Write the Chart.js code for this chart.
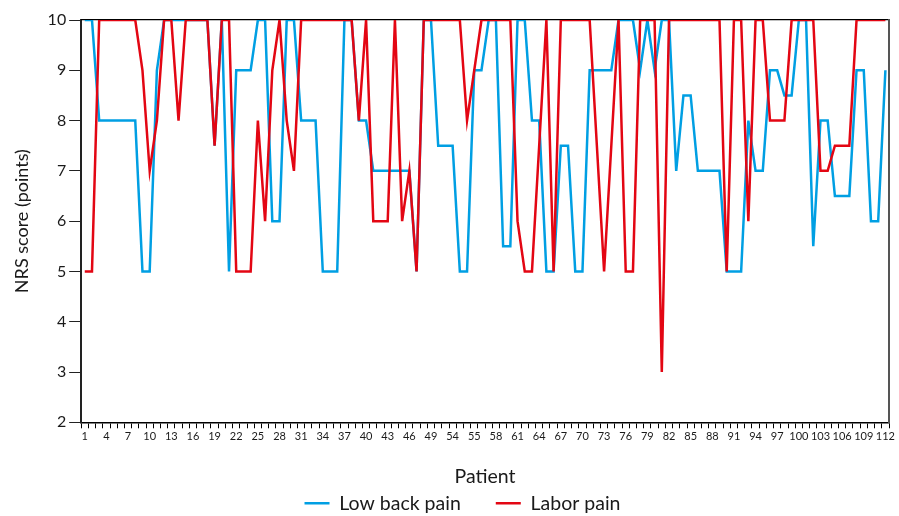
<!DOCTYPE html>
<html>
<head>
<meta charset="utf-8">
<script src="https://cdn.jsdelivr.net/npm/chart.js@4.4.1/dist/chart.umd.min.js"></script>
<style>
  html, body { margin: 0; padding: 0; background: #fff; }
  #wrap { width: 899px; height: 516px; }
</style>
</head>
<body>
<div id="wrap"><canvas id="nrsChart"></canvas></div>
<script>
// patients 1..112
const patients = [
  1, 2, 3, 4, 5, 6, 7, 8, 9, 10, 11, 12, 13, 14, 15, 16, 17, 18, 19, 20,
  21, 22, 23, 24, 25, 26, 27, 28, 29, 30, 31, 32, 33, 34, 35, 36, 37, 38, 39, 40,
  41, 42, 43, 44, 45, 46, 47, 48, 49, 50, 51, 52, 53, 54, 55, 56, 57, 58, 59, 60,
  61, 62, 63, 64, 65, 66, 67, 68, 69, 70, 71, 72, 73, 74, 75, 76, 77, 78, 79, 80,
  81, 82, 83, 84, 85, 86, 87, 88, 89, 90, 91, 92, 93, 94, 95, 96, 97, 98, 99, 100,
  101, 102, 103, 104, 105, 106, 107, 108, 109, 110, 111, 112
];

// every third patient is labelled (the source prints "54" where 52 would be)
const tickLabels = [
  '1', '4', '7', '10', '13', '16', '19', '22', '25', '28', '31', '34', '37',
  '40', '43', '46', '49', '54', '55', '58', '61', '64', '67', '70', '73', '76',
  '79', '82', '85', '88', '91', '94', '97', '100', '103', '106', '109', '112'
];

const lowBackPain = [
  10, 10, 8, 8, 8, 8, 8, 8, 5, 5,
  9, 10, 10, 10, 10, 10, 10, 10, 7.5, 10,
  5, 9, 9, 9, 10, 10, 6, 6, 10, 10,
  8, 8, 8, 5, 5, 5, 10, 10, 8, 8,
  7, 7, 7, 7, 7, 7, 5, 10, 10, 7.5,
  7.5, 7.5, 5, 5, 9, 9, 10, 10, 5.5, 5.5,
  10, 10, 8, 8, 5, 5, 7.5, 7.5, 5, 5,
  9, 9, 9, 9, 10, 10, 10, 9, 10, 9,
  10, 10, 7, 8.5, 8.5, 7, 7, 7, 7, 5,
  5, 5, 8, 7, 7, 9, 9, 8.5, 8.5, 10,
  10, 5.5, 8, 8, 6.5, 6.5, 6.5, 9, 9, 6,
  6, 9
];

const laborPain = [
  5, 5, 10, 10, 10, 10, 10, 10, 9, 7,
  8, 10, 10, 8, 10, 10, 10, 10, 7.5, 10,
  10, 5, 5, 5, 8, 6, 9, 10, 8, 7,
  10, 10, 10, 10, 10, 10, 10, 10, 8, 10,
  6, 6, 6, 10, 6, 7, 5, 10, 10, 10,
  10, 10, 10, 8, 9, 10, 10, 10, 10, 10,
  6, 5, 5, 7.5, 10, 5, 10, 10, 10, 10,
  10, 7.5, 5, 7.5, 10, 5, 5, 10, 10, 10,
  3, 10, 10, 10, 10, 10, 10, 10, 10, 5,
  10, 10, 6, 10, 10, 8, 8, 8, 10, 10,
  10, 10, 7, 7, 7.5, 7.5, 7.5, 10, 10, 10,
  10, 10
];

const COLORS = {
  lowBack: '#009fe3',
  labor:   '#e30613',
  ink:     '#1a1a1a',
  axis:    '#222222',
};

Chart.defaults.font.family = "Lato, 'Noto Sans', sans-serif";
Chart.defaults.color = COLORS.ink;

// plain frame line only, no ticks or labels
const frameAxis = (position, color, width) => ({
  type: 'linear',
  position,
  min: 0,
  max: 1,
  ticks: { display: false },
  grid: { display: false, drawTicks: false },
  border: { display: true, color, width },
});

new Chart(document.getElementById('nrsChart'), {
  type: 'line',
  data: {
    labels: patients,
    datasets: [
      {
        label: 'Low back pain',
        data: lowBackPain,
        borderColor: COLORS.lowBack,
        backgroundColor: COLORS.lowBack,
        borderWidth: 2.5,
        pointRadius: 0,
        tension: 0,
        order: 1,
      },
      {
        label: 'Labor pain',
        data: laborPain,
        borderColor: COLORS.labor,
        backgroundColor: COLORS.labor,
        borderWidth: 2.5,
        pointRadius: 0,
        tension: 0,
        order: 0,
      }
    ]
  },
  options: {
    responsive: true,
    maintainAspectRatio: false,
    animation: false,
    layout: { padding: { left: 11, right: 10, top: 20, bottom: -7 } },
    plugins: {
      tooltip: { enabled: false },
      legend: {
        position: 'bottom',
        labels: {
          usePointStyle: true,
          pointStyle: 'dash',
          pointStyleWidth: 50,
          padding: 10,
          color: COLORS.ink,
          font: { size: 19.5 },
          sort: (a, b) => a.datasetIndex - b.datasetIndex,
        }
      }
    },
    scales: {
      x: {
        type: 'category',
        offset: true,
        grid: { offset: true, drawOnChartArea: false, tickLength: 6, color: '#000', lineWidth: 1 },
        border: { color: '#000', width: 1.5 },
        ticks: {
          autoSkip: false,
          maxRotation: 0,
          padding: 2,
          font: { size: 11 },
          callback: (v, i) => (i % 3 === 0 ? tickLabels[i / 3] : ''),
        },
        title: {
          display: true,
          text: 'Patient',
          font: { size: 19.5, lineHeight: 1 },
          padding: { top: 21, bottom: -2.5 },
        }
      },
      y: {
        min: 2,
        max: 10,
        ticks: { stepSize: 1, padding: 3, font: { size: 16 } },
        grid: { drawOnChartArea: false, tickLength: 12, color: COLORS.axis },
        border: { color: COLORS.axis, width: 2 },
        title: {
          display: true,
          text: 'NRS score (points)',
          font: { size: 18 },
          padding: { top: 0, bottom: 12 },
        }
      },
      xTop: Object.assign(frameAxis('top', '#000', 1.2), { axis: 'x' }),
      yRight: Object.assign(frameAxis('right', '#555', 2), { axis: 'y' }),
    }
  }
});
</script>
</body>
</html>
